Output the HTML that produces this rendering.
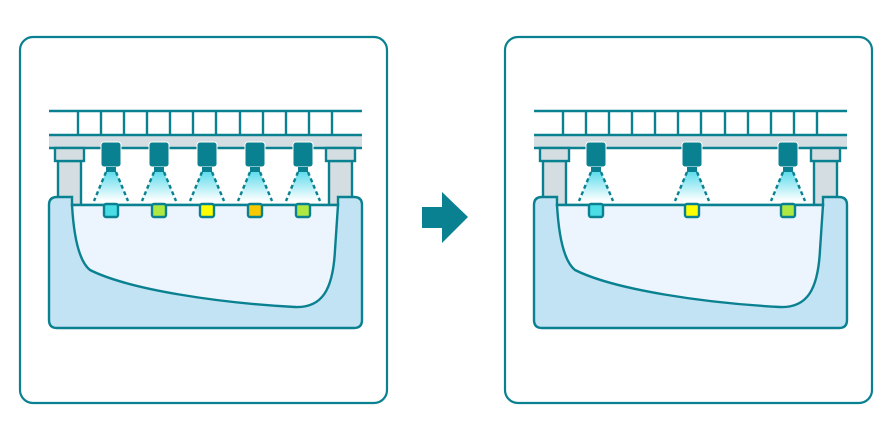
<!DOCTYPE html>
<html><head><meta charset="utf-8"><style>html,body{margin:0;padding:0;background:#fff}svg{display:block}</style></head>
<body>
<svg width="890" height="440" viewBox="0 0 890 440" xmlns="http://www.w3.org/2000/svg">
<defs>
<linearGradient id="cone" x1="0" y1="0" x2="0" y2="1">
<stop offset="0" stop-color="#5fdcec"/><stop offset="1" stop-color="#ffffff"/>
</linearGradient>
<g id="base">
<rect x="20" y="37" width="367" height="366" rx="13" fill="#fff" stroke="#0a8190" stroke-width="2.2"/>
<line x1="49" y1="111" x2="362" y2="111" stroke="#0a8190" stroke-width="2.4"/>
<g stroke="#0a8190" stroke-width="2.4">
<line x1="78" y1="111" x2="78" y2="135"/><line x1="101" y1="111" x2="101" y2="135"/><line x1="124" y1="111" x2="124" y2="135"/><line x1="147" y1="111" x2="147" y2="135"/><line x1="170" y1="111" x2="170" y2="135"/><line x1="193" y1="111" x2="193" y2="135"/><line x1="216" y1="111" x2="216" y2="135"/><line x1="240" y1="111" x2="240" y2="135"/><line x1="263" y1="111" x2="263" y2="135"/><line x1="286" y1="111" x2="286" y2="135"/><line x1="309" y1="111" x2="309" y2="135"/><line x1="332" y1="111" x2="332" y2="135"/>
</g>
<rect x="49" y="135" width="313" height="13" fill="#d4dee2"/>
<line x1="49" y1="135" x2="362" y2="135" stroke="#0a8190" stroke-width="2.4"/>
<line x1="49" y1="148" x2="362" y2="148" stroke="#0a8190" stroke-width="2.4"/>
<rect x="58" y="161" width="23" height="46" fill="#d4dee2" stroke="#0a8190" stroke-width="2.4"/>
<rect x="55" y="148" width="29" height="13" fill="#d4dee2" stroke="#0a8190" stroke-width="2.4"/>
<rect x="329" y="161" width="23" height="46" fill="#d4dee2" stroke="#0a8190" stroke-width="2.4"/>
<rect x="326" y="148" width="29" height="13" fill="#d4dee2" stroke="#0a8190" stroke-width="2.4"/>
<path d="M57,197 L72,197 L72,205 L338,205 L338,197 L354,197 Q362,197 362,205 L362,320 Q362,328 354,328 L57,328 Q49,328 49,320 L49,205 Q49,197 57,197 Z" fill="#c2e3f3" stroke="#0a8190" stroke-width="2.4"/>
<path d="M72,205 C74,240 80,262 90,270 C130,290 220,303 295,307 C322,308 333,290 335,250 L338,205 Z" fill="#ecf4fd" stroke="#0a8190" stroke-width="2.4"/>
</g>
<g id="cam">
<path d="M-5,172 L5,172 L17,201 L-17,201 Z" fill="url(#cone)"/>
<line x1="-5" y1="172" x2="-17" y2="201" stroke="#0a8190" stroke-width="2.4" stroke-dasharray="4,3"/>
<line x1="5" y1="172" x2="17" y2="201" stroke="#0a8190" stroke-width="2.4" stroke-dasharray="4,3"/>
<rect x="-10" y="142" width="20" height="25" rx="3" fill="#0a8190" stroke="#fff" stroke-width="1"/>
<rect x="-5" y="167" width="10" height="5" fill="#0a8190"/>
</g>
</defs>

<use href="#base"/>
<use href="#cam" x="111"/><use href="#cam" x="159"/><use href="#cam" x="207"/><use href="#cam" x="255"/><use href="#cam" x="303"/>
<g stroke="#0a8190" stroke-width="2.4">
<rect x="104" y="204" width="14" height="13" rx="2" fill="#4bdde5"/>
<rect x="152" y="204" width="14" height="13" rx="2" fill="#b0e842"/>
<rect x="200" y="204" width="14" height="13" rx="2" fill="#ffff00"/>
<rect x="248" y="204" width="14" height="13" rx="2" fill="#f8c800"/>
<rect x="296" y="204" width="14" height="13" rx="2" fill="#b0e842"/>
</g>

<path d="M422,207 L442,207 L442,192 L468,217 L442,243 L442,228 L422,228 Z" fill="#0a8190"/>

<use href="#base" x="485"/>
<use href="#cam" x="596"/><use href="#cam" x="692"/><use href="#cam" x="788"/>
<g stroke="#0a8190" stroke-width="2.4">
<rect x="589" y="204" width="14" height="13" rx="2" fill="#4bdde5"/>
<rect x="685" y="204" width="14" height="13" rx="2" fill="#ffff00"/>
<rect x="781" y="204" width="14" height="13" rx="2" fill="#b0e842"/>
</g>
</svg>
</body></html>
